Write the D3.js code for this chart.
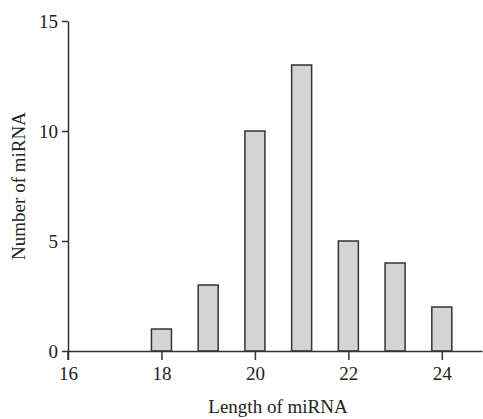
<!DOCTYPE html>
<html>
<head>
<meta charset="utf-8">
<script src="https://cdn.jsdelivr.net/npm/d3@7"></script>
<style>
  body { margin: 0; background: #fff; }
  text { font-family: "Liberation Serif", "Times New Roman", serif; fill: #222; }
</style>
</head>
<body>
<svg id="chart" width="483" height="419"></svg>
<script>
// --- data ---
var lengths = [18, 19, 20, 21, 22, 23, 24];
var counts = [1, 3, 10, 13, 5, 4, 2];
var xTicks = [16, 18, 20, 22, 24];
var yTicks = [0, 5, 10, 15];

var svg = d3.select("#chart");

// plot frame (avoid "top" - clashes with window.top)
var plotLeft = 68, plotRight = 482, plotTop = 21, plotBottom = 351;

var x = d3.scaleLinear().domain([16, 24.86]).range([plotLeft, plotRight]);
var y = d3.scaleLinear().domain([0, 15]).range([plotBottom, plotTop]);

var barW = 20;

// bars
svg.append("g")
    .selectAll("rect")
    .data(lengths)
    .enter()
    .append("rect")
    .attr("x", function(d) { return x(d) - barW / 2; })
    .attr("y", function(d, i) { return y(counts[i]); })
    .attr("width", barW)
    .attr("height", function(d, i) { return y(0) - y(counts[i]); })
    .attr("fill", "#d4d4d4")
    .attr("stroke", "#333")
    .attr("stroke-width", 1.5);

// x axis (ticks downward)
var xAxis = svg.append("g")
    .attr("transform", "translate(0," + plotBottom + ")")
    .call(d3.axisBottom(x).tickValues(xTicks).tickSize(9).tickSizeOuter(0).tickPadding(7));

// y axis (ticks left)
var yAxis = svg.append("g")
    .attr("transform", "translate(" + plotLeft + ",0)")
    .call(d3.axisLeft(y).tickValues(yTicks).tickSize(6).tickSizeOuter(0).tickPadding(4));

[xAxis, yAxis].forEach(function(a) {
    a.select(".domain").attr("stroke", "#333").attr("stroke-width", 1.5);
    a.selectAll(".tick line").attr("stroke", "#333").attr("stroke-width", 1.5);
    a.selectAll(".tick text")
        .style("font-family", "'Liberation Serif', 'Times New Roman', serif")
        .style("font-size", "19px")
        .attr("fill", "#222");
});

// y axis line continues slightly below the x axis
svg.append("line")
    .attr("x1", plotLeft).attr("x2", plotLeft)
    .attr("y1", plotBottom).attr("y2", plotBottom + 9)
    .attr("stroke", "#333").attr("stroke-width", 1.5);

// axis titles
svg.append("text")
    .attr("x", 278)
    .attr("y", 413)
    .attr("text-anchor", "middle")
    .style("font-size", "19px")
    .text("Length of miRNA");

svg.append("text")
    .attr("transform", "translate(25,186) rotate(-90)")
    .attr("text-anchor", "middle")
    .style("font-size", "19px")
    .text("Number of miRNA");
</script>
</body>
</html>
